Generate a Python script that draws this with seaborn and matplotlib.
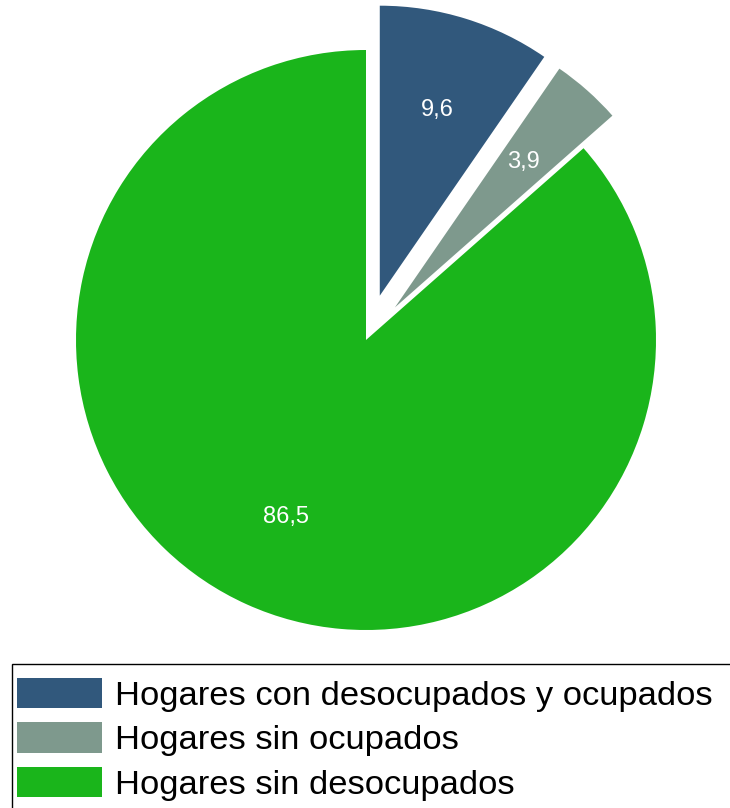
import matplotlib
matplotlib.use("Agg")
import matplotlib.pyplot as plt
import seaborn as sns
from matplotlib.patches import Patch, Rectangle

sns.set_theme(style="white")
plt.rcParams['font.family'] = ['Liberation Sans', 'DejaVu Sans']

# datos
categorias = ["Hogares con desocupados y ocupados", "Hogares sin ocupados", "Hogares sin desocupados"]
valores = [9.6, 3.9, 86.5]
etiquetas = ["9,6", "3,9", "86,5"]
colores = ["#31587C", "#7E998D", "#1AB51B"]
separacion = [0.16, 0.15, 0.0]

W, H = 730, 808
fig = plt.figure(figsize=(W / 100, H / 100), dpi=100)

# eje del pie: centro en (366,340) px, radio 290 px
R = 290
cx, cy = 366, 340
top_px, bot_px = 0, 650
ax = fig.add_axes([0, (H - bot_px) / H, 1, (bot_px - top_px) / H])

wedges, textos, pct = ax.pie(valores, colors=colores, startangle=90, counterclock=False,
                             explode=separacion, autopct=lambda p: "", pctdistance=0.67,
                             wedgeprops=dict(linewidth=0))
for t, lab in zip(pct, etiquetas):
    t.set_text(lab)
    t.set_color("white")
    t.set_fontsize(17)

ax.set_aspect("auto")
ax.set_xlim((0 - cx) / R, (W - cx) / R)
ax.set_ylim((cy - bot_px) / R, (cy - top_px) / R)
ax.axis("off")

# marco de la leyenda (se sale por la derecha y por abajo)
fig.patches.append(Rectangle((12 / W, -12 / H), 740 / W, (H - 664 + 12) / H,
                             transform=fig.transFigure, fill=False,
                             edgecolor="black", linewidth=1.0))

handles = [Patch(facecolor=c, edgecolor="none") for c in colores]
fs = 24.8
leg = fig.legend(handles, categorias, loc="upper left",
                 bbox_to_anchor=(12 / W, (H - 673) / H, 730 / W, 0), mode="expand",
                 fontsize=fs, labelcolor="black", frameon=False,
                 handlelength=2.45, handleheight=0.97, handletextpad=0.4,
                 labelspacing=0.3, borderpad=0.15, borderaxespad=0)

fig.savefig("out.png", dpi=100)
